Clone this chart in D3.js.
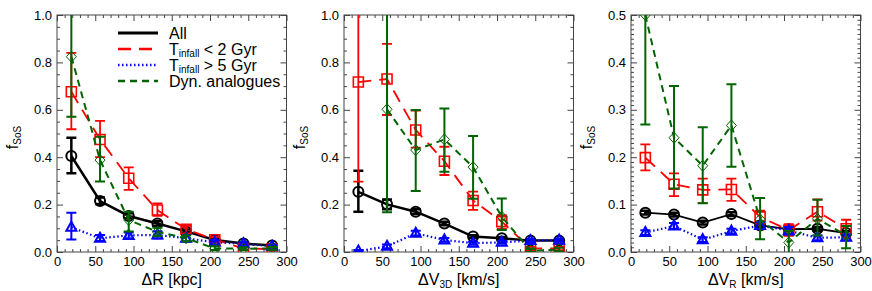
<!DOCTYPE html>
<html>
<head>
<meta charset="utf-8">
<script src="https://cdn.jsdelivr.net/npm/d3@7"></script>
<style>
body { margin: 0; background: #fff; }
svg text { font-family: "Liberation Sans", Arial, Helvetica, sans-serif; fill: #000; }
</style>
</head>
<body>
<div id="main"></div>
<script>
// bin centres, shared by the three panels
const binX = [18.75, 56.25, 93.75, 131.25, 168.75, 206.25, 243.75, 281.25];

// every entry is [value, lower error, upper error]
// panel 1: Delta R
const dR_all   = [[0.405,0.332,0.482],[0.215,0.203,0.230],[0.152,0.142,0.163],[0.120,0.111,0.130],[0.087,0.080,0.095],[0.051,0.045,0.057],[0.036,0.032,0.040],[0.027,0.023,0.031]];
const dR_young = [[0.676,0.518,0.840],[0.475,0.400,0.553],[0.311,0.262,0.357],[0.177,0.153,0.205],[0.096,0.079,0.110],[0.052,0.040,0.063],[0.015,0.008,0.022],[0.012,0.006,0.018]];
const dR_old   = [[0.104,0.053,0.166],[0.058,0.046,0.072],[0.070,0.058,0.082],[0.072,0.057,0.088],[0.058,0.044,0.072],[0.041,0.032,0.050],[0.035,0.029,0.041],[0.024,0.018,0.030]];
const dR_dyn   = [[0.824,0.571,1.100],[0.388,0.297,0.486],[0.135,0.086,0.170],[0.085,0.068,0.102],[0.058,0.045,0.070],[0.015,0.008,0.024],[0.014,0.008,0.020],[0.015,0.009,0.021]];

// panel 2: Delta V_3D
const dV_all   = [[0.254,0.170,0.343],[0.201,0.180,0.222],[0.170,0.160,0.180],[0.120,0.113,0.128],[0.065,0.059,0.071],[0.058,0.053,0.063],[0.048,0.044,0.052],[0.048,0.044,0.052]];
const dV_young = [[0.717,0.297,1.100],[0.730,0.578,0.878],[0.515,0.440,0.597],[0.383,0.325,0.444],[0.217,0.178,0.255],[0.128,0.097,0.155],[0.015,0.008,0.022],[0.015,0.008,0.022]];
const dV_old   = [[0.004,0.000,0.008],[0.024,0.016,0.032],[0.079,0.070,0.090],[0.051,0.043,0.059],[0.037,0.031,0.043],[0.041,0.035,0.047],[0.048,0.042,0.054],[0.050,0.044,0.056]];
const dV_dyn   = [null,[0.602,0.168,1.100],[0.430,0.257,0.599],[0.475,0.339,0.606],[0.358,0.225,0.489],[0.149,0.093,0.226],[0.006,0.000,0.014],[0.010,0.003,0.018]];

// panel 3: Delta V_R
const vR_all   = [[0.083,0.079,0.087],[0.079,0.075,0.083],[0.062,0.058,0.066],[0.080,0.076,0.084],[0.056,0.052,0.060],[0.048,0.044,0.052],[0.049,0.045,0.053],[0.040,0.036,0.044]];
const vR_young = [[0.199,0.172,0.227],[0.143,0.118,0.166],[0.131,0.103,0.155],[0.132,0.108,0.155],[0.074,0.060,0.087],[0.046,0.034,0.059],[0.085,0.066,0.111],[0.049,0.031,0.068]];
const vR_old   = [[0.041,0.036,0.046],[0.055,0.049,0.061],[0.026,0.021,0.031],[0.044,0.039,0.049],[0.056,0.049,0.063],[0.045,0.037,0.053],[0.030,0.025,0.035],[0.031,0.025,0.037]];
const vR_dyn   = [[0.500,0.269,0.600],[0.241,0.134,0.350],[0.182,0.103,0.263],[0.267,0.180,0.354],[0.069,0.027,0.114],[0.020,-0.010,0.045],[0.070,0.035,0.110],[0.035,0.008,0.055]];

const xTicks = [0, 50, 100, 150, 200, 250, 300];
const yMax = [1.0, 1.0, 0.5];
const yTickStep = [0.2, 0.2, 0.1];
const yMinorStep = [0.05, 0.05, 0.01];
const legendLabels = ["All", "T|infall| < 2 Gyr", "T|infall| > 5 Gyr", "Dyn. analogues"];

const ctx = {
    w: 872,
    h: 291,
    LEFT: [57, 344, 631],
    TOP: 15,
    PW: 229.5,
    PH: 237,
    MAJOR: 6,
    MINOR: 3
};

// style per series: all, young infall, old infall, dynamical analogues
const styles = [
    {color: "#000", lw: 2.5, dash: null,   sym: "circle",   mw: 2,   ew: 2.5},
    {color: "#f00", lw: 1.8, dash: "13,8", sym: "square",   mw: 1.6, ew: 1.8},
    {color: "#00f", lw: 2.2, dash: "1.5,2.5", sym: "triangle", mw: 2, ew: 2},
    {color: "#006400", lw: 2, dash: "7,5", sym: "diamond", mw: 1, ew: 2}
];

function symbolPath(sym) {
    if (sym == "circle") return d3.symbol().type(d3.symbolCircle).size(Math.PI * 25)();
    if (sym == "square") return "M-5,-5L5,-5L5,5L-5,5Z";
    if (sym == "triangle") return "M0,-5.5L5,3.5L-5,3.5Z";
    return "M0,-5.5L5,0L0,5.5L-5,0Z";
}

// text with "|sub|" parts written as subscripts
function richText(sel, str, size, subSize, shift) {
    let parts = str.split("|");
    parts.forEach((p, i) => {
        if (p === "") return;
        let t = sel.append("tspan").text(p);
        if (i % 2 == 1) t.attr("font-size", subSize).attr("dy", shift);
        else {
            t.attr("font-size", size);
            if (i > 0) t.attr("dy", -shift);
        }
    });
}

function range(a, b, step) {
    let out = [];
    for (let v = a; v <= b + 1e-9; v += step) out.push(+v.toFixed(4));
    return out;
}

function drawPanel(svg, p, series, xTitle) {
    let g = svg.append("g").attr("transform", `translate(${ctx.LEFT[p]},${ctx.TOP})`);
    let x = d3.scaleLinear().domain([0, 300]).range([0, ctx.PW]);
    let y = d3.scaleLinear().domain([0, yMax[p]]).range([ctx.PH, 0]);

    g.append("clipPath").attr("id", "clip" + p)
        .append("rect").attr("width", ctx.PW).attr("height", ctx.PH);

    // axes: ticks point inward on all four sides
    let yMajor = range(0, yMax[p], yTickStep[p]);
    let yMinor = range(0, yMax[p], yMinorStep[p]).filter(v => !yMajor.some(m => Math.abs(m - v) < 1e-6));
    let xMinor = range(0, 300, 10).filter(v => v % 50 != 0);

    let axes = [
        [d3.axisBottom(x).tickValues(xTicks).tickFormat(d3.format("d")), `translate(0,${ctx.PH})`, true],
        [d3.axisBottom(x).tickValues(xMinor).tickFormat(""), `translate(0,${ctx.PH})`, false],
        [d3.axisTop(x).tickValues(xTicks).tickFormat(""), null, true],
        [d3.axisTop(x).tickValues(xMinor).tickFormat(""), null, false],
        [d3.axisLeft(y).tickValues(yMajor).tickFormat(d3.format(".1f")), null, true],
        [d3.axisLeft(y).tickValues(yMinor).tickFormat(""), null, false],
        [d3.axisRight(y).tickValues(yMajor).tickFormat(""), `translate(${ctx.PW},0)`, true],
        [d3.axisRight(y).tickValues(yMinor).tickFormat(""), `translate(${ctx.PW},0)`, false]
    ];
    axes.forEach(([ax, tr, major]) => {
        ax.tickSizeInner(-(major ? ctx.MAJOR : ctx.MINOR)).tickSizeOuter(0).tickPadding(major ? 5 : 0);
        let a = g.append("g").call(ax);
        if (tr) a.attr("transform", tr);
        a.select(".domain").remove();
        a.selectAll("line").attr("stroke", "#444");
        a.selectAll("text").attr("font-size", 13).attr("fill", "#000")
            .style("font-family", "'Liberation Sans', Arial, sans-serif");
    });

    g.append("rect").attr("width", ctx.PW).attr("height", ctx.PH)
        .attr("fill", "none").attr("stroke", "#444").attr("stroke-width", 1);

    let plotG = g.append("g").attr("clip-path", `url(#clip${p})`);

    series.forEach((data, s) => {
        let st = styles[s];
        let pts = data.map((d, j) => d ? {x: binX[j], v: d[0], lo: d[1], hi: d[2]} : null)
                      .filter(d => d != null);
        let sg = plotG.append("g");

        sg.append("path").datum(pts)
            .attr("d", d3.line().x(d => x(d.x)).y(d => y(d.v)))
            .attr("fill", "none")
            .attr("stroke", st.color)
            .attr("stroke-width", p == 2 && s == 0 ? 1.8 : st.lw)
            .attr("stroke-dasharray", st.dash);

        // error bars with caps
        pts.forEach(d => {
            let cx = x(d.x);
            sg.append("line").attr("x1", cx).attr("x2", cx)
                .attr("y1", y(d.lo)).attr("y2", y(d.hi))
                .attr("stroke", st.color).attr("stroke-width", st.ew);
            [d.lo, d.hi].forEach(e => {
                sg.append("line").attr("x1", cx - 5).attr("x2", cx + 5)
                    .attr("y1", y(e)).attr("y2", y(e))
                    .attr("stroke", st.color).attr("stroke-width", st.ew);
            });
        });

        sg.selectAll("path.mk").data(pts).enter()
            .append("path").attr("class", "mk")
            .attr("d", symbolPath(st.sym))
            .attr("transform", d => `translate(${x(d.x)},${y(d.v)})`)
            .attr("fill", "none")
            .attr("stroke", st.color)
            .attr("stroke-width", st.mw);
    });

    // axis titles
    let xt = g.append("text")
        .attr("x", ctx.PW / 2).attr("y", 270)
        .attr("text-anchor", "middle");
    richText(xt, xTitle, 16, 10, 3);

    let yt = g.append("text")
        .attr("transform", `translate(-39,${ctx.PH / 2 + 4}) rotate(-90)`)
        .attr("text-anchor", "middle");
    richText(yt, "f|SoS|", 16, 10, 3);

    return g;
}

function drawLegend(svg) {
    let lg = svg.append("g").attr("transform", "translate(118,33)");
    legendLabels.forEach((lab, i) => {
        let st = styles[i];
        lg.append("line")
            .attr("x1", 0).attr("x2", 40)
            .attr("y1", i * 16).attr("y2", i * 16)
            .attr("stroke", st.color)
            .attr("stroke-width", i == 0 ? 3 : 2.5)
            .attr("stroke-dasharray", st.dash);
        let t = lg.append("text")
            .attr("x", 51).attr("y", i * 16 + 5.5);
        richText(t, lab, 16, 10, 2.5);
    });
}

function createViz() {
    let svg = d3.select("#main").append("svg")
        .attr("width", ctx.w).attr("height", ctx.h);
    drawPanel(svg, 0, [dR_all, dR_young, dR_old, dR_dyn], "ΔR [kpc]");
    drawPanel(svg, 1, [dV_all, dV_young, dV_old, dV_dyn], "ΔV|3D| [km/s]");
    drawPanel(svg, 2, [vR_all, vR_young, vR_old, vR_dyn], "ΔV|R| [km/s]");
    drawLegend(svg);
}

createViz();
</script>
</body>
</html>
